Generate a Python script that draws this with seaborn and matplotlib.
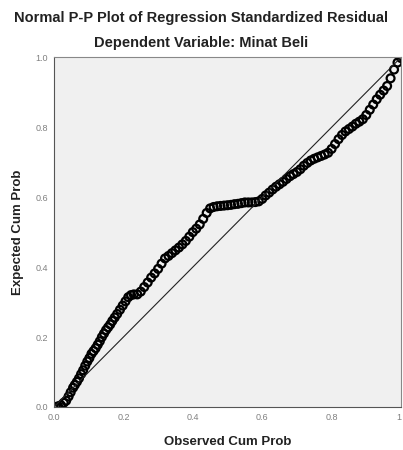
import matplotlib
matplotlib.use('Agg')
import matplotlib.pyplot as plt
import seaborn as sns
import pandas as pd

# Observed vs expected cumulative probabilities
observed = [0.005, 0.012, 0.02, 0.028, 0.035, 0.042, 0.048, 0.055, 0.06, 0.066,
            0.072, 0.078, 0.084, 0.09, 0.096, 0.102, 0.108, 0.114, 0.12, 0.126,
            0.132, 0.138, 0.144, 0.15, 0.156, 0.162, 0.168, 0.175, 0.182, 0.19,
            0.198, 0.206, 0.214, 0.222, 0.23, 0.24, 0.25, 0.26, 0.27, 0.28,
            0.29, 0.30, 0.31, 0.32, 0.33, 0.34, 0.35, 0.36, 0.37, 0.38,
            0.39, 0.40, 0.41, 0.42, 0.43, 0.44, 0.45, 0.46, 0.47, 0.48,
            0.49, 0.50, 0.51, 0.52, 0.53, 0.54, 0.55, 0.56, 0.57, 0.58,
            0.59, 0.60, 0.61, 0.62, 0.63, 0.64, 0.65, 0.66, 0.67, 0.68,
            0.69, 0.70, 0.71, 0.72, 0.73, 0.74, 0.75, 0.76, 0.77, 0.78,
            0.79, 0.80, 0.81, 0.82, 0.83, 0.84, 0.85, 0.86, 0.87, 0.88,
            0.89, 0.90, 0.91, 0.92, 0.93, 0.94, 0.95, 0.96, 0.97, 0.98,
            0.99, 1.0]
expected = [0.0, 0.002, 0.005, 0.012, 0.018, 0.03, 0.042, 0.055, 0.063, 0.072,
            0.082, 0.094, 0.105, 0.118, 0.13, 0.14, 0.152, 0.16, 0.168, 0.178,
            0.188, 0.2, 0.21, 0.22, 0.228, 0.236, 0.246, 0.256, 0.266, 0.278,
            0.29, 0.302, 0.314, 0.32, 0.322, 0.322, 0.33, 0.343, 0.356, 0.37,
            0.382, 0.395, 0.41, 0.425, 0.432, 0.44, 0.448, 0.456, 0.465, 0.475,
            0.487, 0.5, 0.51, 0.522, 0.538, 0.555, 0.568, 0.572, 0.574, 0.575,
            0.576, 0.577, 0.578, 0.58, 0.581, 0.583, 0.585, 0.585, 0.585, 0.586,
            0.588, 0.595, 0.605, 0.613, 0.622, 0.63, 0.637, 0.644, 0.652, 0.66,
            0.666, 0.672, 0.68, 0.69, 0.698, 0.705, 0.71, 0.714, 0.718, 0.722,
            0.727, 0.738, 0.752, 0.766, 0.778, 0.788, 0.795, 0.802, 0.81, 0.816,
            0.823, 0.835, 0.85, 0.865, 0.88, 0.893, 0.905, 0.918, 0.94, 0.965,
            0.985, 0.998]

ref_line = [0.0, 1.0]
ticks = [0.0, 0.2, 0.4, 0.6, 0.8, 1.0]
x_tick_labels = ['0.0', '0.2', '0.4', '0.6', '0.8', '1']
y_tick_labels = ['0.0', '0.2', '0.4', '0.6', '0.8', '1.0']

df = pd.DataFrame({'observed': observed, 'expected': expected})

sns.set_style('white')
plt.rcParams['font.family'] = ['Liberation Sans', 'DejaVu Sans']

fig = plt.figure(figsize=(4.03, 4.5), dpi=100)
ax = fig.add_axes([0.134, 0.0956, 0.861, 0.777])
ax.set_facecolor('#f0f0f0')

sns.lineplot(x=ref_line, y=ref_line, ax=ax, color='#222222', linewidth=0.8)
sns.scatterplot(data=df, x='observed', y='expected', ax=ax, marker='o',
                s=32, facecolor='none', edgecolor='black', linewidth=1.6)

ax.set_xlim(0, 1)
ax.set_ylim(0, 1)
ax.set_xticks(ticks)
ax.set_xticklabels(x_tick_labels)
ax.set_yticks(ticks)
ax.set_yticklabels(y_tick_labels)
ax.tick_params(axis='both', labelsize=6.5, labelcolor='#808080', color='#666666',
               length=3, width=0.8, direction='out', pad=1.5)
ax.get_xticklabels()[-1].set_ha('right')
for side in ax.spines.values():
    side.set_color('#888888')
    side.set_linewidth(0.8)
ax.spines['left'].set_color('#555555')
ax.spines['bottom'].set_color('#555555')

ax.set_xlabel('Observed Cum Prob', fontsize=9.5, fontweight='bold', color='#222222', labelpad=10)
ax.set_ylabel('Expected Cum Prob', fontsize=9.5, fontweight='bold', color='#222222', labelpad=8)

fig.text(0.5, 0.96, 'Normal P-P Plot of Regression Standardized Residual',
         ha='center', va='center', fontsize=10.5, fontweight='bold', color='#222222')
fig.text(0.5, 0.905, 'Dependent Variable: Minat Beli',
         ha='center', va='center', fontsize=10.5, fontweight='bold', color='#222222')

fig.savefig('out.png', dpi=100)
